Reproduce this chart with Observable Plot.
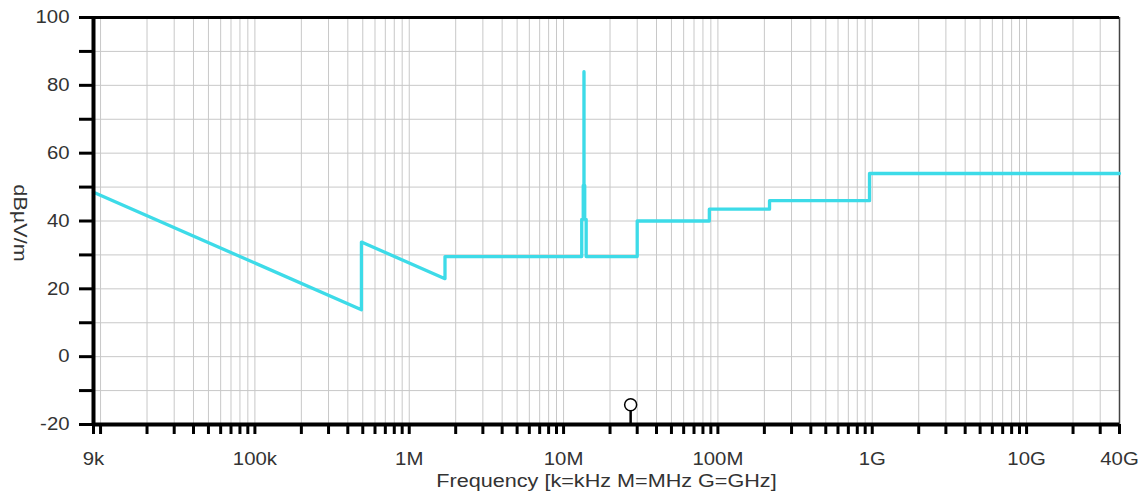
<!DOCTYPE html>
<html><head><meta charset="utf-8">
<script src="https://cdn.jsdelivr.net/npm/d3@7"></script>
<script src="https://cdn.jsdelivr.net/npm/@observablehq/plot@0.6"></script>
<style>body{margin:0;background:#fff;} svg{display:block}</style>
</head><body><div id="chart"></div>
<script>
// Limit line: frequency (Hz) and level (dBµV/m), vertices in order
const freqHz  = [9e3, 490e3, 490e3, 1.705e6, 1.705e6, 13.11e6, 13.11e6, 13.41e6, 13.41e6, 13.553e6, 13.553e6, 13.567e6, 13.567e6, 13.71e6, 13.71e6, 14.01e6, 14.01e6, 30e6, 30e6, 88e6, 88e6, 216e6, 216e6, 960e6, 960e6, 40e9];
const levelDb = [48.5, 13.8, 33.8, 23.0, 29.5, 29.5, 40.5, 40.5, 50.5, 50.5, 84.0, 84.0, 50.5, 50.5, 40.5, 40.5, 29.5, 29.5, 40.0, 40.0, 43.5, 43.5, 46.0, 46.0, 54.0, 54.0];

// Marker near the axis
const markerFreq = [27.2e6];
const markerDb = [-14.2];

// Axis ticks
const xLabelTicks = [9e3, 1e5, 1e6, 1e7, 1e8, 1e9, 1e10, 4e10];
const xLabelText  = ["9k", "100k", "1M", "10M", "100M", "1G", "10G", "40G"];
const decades = [1e4, 1e5, 1e6, 1e7, 1e8, 1e9, 1e10];
const multipliers = [1, 2, 3, 4, 5, 6, 7, 8, 9];
const yTicks = [-20, -10, 0, 10, 20, 30, 40, 50, 60, 70, 80, 90, 100];
const yLabelTicks = [-20, 0, 20, 40, 60, 80, 100];

const xTitle = "Frequency [k=kHz M=MHz G=GHz]";
const yTitle = "dBµV/m";

const xDomain = [9e3, 4e10];
const yDomain = [-20, 100];

const limitData = freqHz.map((f, i) => ({f, db: levelDb[i]}));
const markerData = markerFreq.map((f, i) => ({f, db: markerDb[i]}));
const xMinor = [9e3, ...decades.flatMap(d => multipliers.map(m => d * m))].filter(v => v >= xDomain[0] && v <= xDomain[1]);
const xLabelData = xLabelTicks.map((v, i) => ({v, t: xLabelText[i]}));

const font = "'Liberation Sans', Arial, sans-serif";
const cyan = "#3ddbe8";
const ink = "#333";

const chart = Plot.plot({
  width: 1143,
  height: 499,
  marginLeft: 93,
  marginRight: 24,
  marginTop: 17,
  marginBottom: 75,
  style: {fontFamily: font, background: "#fff", color: ink},
  x: {type: "log", domain: xDomain},
  y: {domain: yDomain},
  marks: [
    Plot.gridX(xMinor, {stroke: "#c8c8c8", strokeOpacity: 1, strokeWidth: 1}),
    Plot.gridY(yTicks, {stroke: "#c8c8c8", strokeOpacity: 1, strokeWidth: 1}),
    Plot.ruleX([xDomain[1]], {stroke: "#444", strokeWidth: 1.5}),
    Plot.ruleY([yDomain[1]], {stroke: "#000", strokeWidth: 3}),
    Plot.line(limitData, {x: "f", y: "db", stroke: cyan, strokeWidth: 3.3}),
    Plot.ruleX(markerData, {x: "f", y1: yDomain[0], y2: "db", stroke: "#000", strokeWidth: 2.5}),
    Plot.dot(markerData, {x: "f", y: "db", r: 6, stroke: "#000", strokeWidth: 1.5, fill: "#fff"}),
    Plot.ruleX([xDomain[0]], {stroke: "#000", strokeWidth: 4}),
    Plot.ruleY([yDomain[0]], {stroke: "#000", strokeWidth: 4}),
    Plot.axisX(xMinor, {tickSize: 10, strokeWidth: 3, stroke: "#000", tickFormat: () => "", label: null}),
    Plot.text(xLabelData, {x: "v", text: "t", frameAnchor: "bottom", dy: 35, fontSize: 18, fill: ink, lineAnchor: "middle", textAnchor: "middle"}),
    Plot.axisY(yTicks, {
      tickSize: 14, tickPadding: 10, strokeWidth: 3, stroke: "#000",
      tickFormat: d => yLabelTicks.includes(d) ? String(d) : "", fontSize: 18, fill: ink, label: null
    }),
    Plot.text([xTitle], {frameAnchor: "bottom", dy: 57, fontSize: 18, fill: ink, lineAnchor: "middle", textAnchor: "middle"}),
    Plot.text([yTitle], {frameAnchor: "left", dx: -74, dy: 2, rotate: 90, fontSize: 18, fill: ink, lineAnchor: "middle", textAnchor: "middle"})
  ]
});
document.getElementById("chart").append(chart);

// The reference's lettering is wide; stretch each text horizontally along its baseline.
chart.querySelectorAll("text").forEach(t => {
  const w = t.getComputedTextLength();
  if (!w) return;
  const s = t.textContent;
  const k = (s === xTitle || s === yTitle) ? 1.2 : 1.13;
  t.setAttribute("textLength", (w * k).toFixed(1));
  t.setAttribute("lengthAdjust", "spacingAndGlyphs");
});
</script>
</body></html>
